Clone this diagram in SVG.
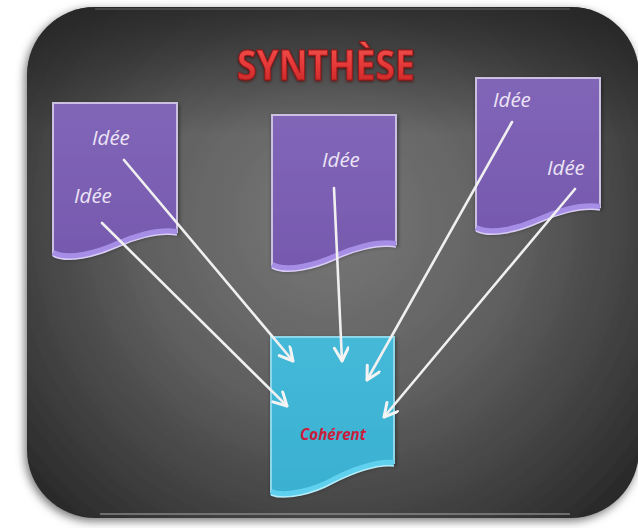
<svg xmlns="http://www.w3.org/2000/svg" width="638" height="528" viewBox="0 0 638 528">
  <defs>
    <radialGradient id="bg" cx="330" cy="220" r="410" gradientUnits="userSpaceOnUse">
      <stop offset="0" stop-color="#787878"/>
      <stop offset="0.45" stop-color="#606060"/>
      <stop offset="0.8" stop-color="#3c3c3c"/>
      <stop offset="1" stop-color="#262626"/>
    </radialGradient>
    <linearGradient id="topshade" x1="0" y1="0" x2="0" y2="1">
      <stop offset="0" stop-color="#1e1e1e" stop-opacity="0.7"/>
      <stop offset="0.25" stop-color="#1e1e1e" stop-opacity="0"/>
      <stop offset="1" stop-color="#1e1e1e" stop-opacity="0"/>
    </linearGradient>
    <linearGradient id="purple" x1="0" y1="0" x2="0" y2="1">
      <stop offset="0" stop-color="#8166b8"/>
      <stop offset="1" stop-color="#7659ae"/>
    </linearGradient>
    <linearGradient id="cyan" x1="0" y1="0" x2="0" y2="1">
      <stop offset="0" stop-color="#45b9d8"/>
      <stop offset="1" stop-color="#3ab0d1"/>
    </linearGradient>
    <linearGradient id="red" x1="0" y1="0" x2="0" y2="1">
      <stop offset="0" stop-color="#f25a56"/>
      <stop offset="0.5" stop-color="#e63a3a"/>
      <stop offset="1" stop-color="#c02020"/>
    </linearGradient>
    <filter id="frameShadow" x="-10%" y="-10%" width="120%" height="120%">
      <feDropShadow dx="-2" dy="3" stdDeviation="5" flood-color="#000" flood-opacity="0.55"/>
    </filter>
    <filter id="soft" x="-10%" y="-10%" width="120%" height="120%">
      <feDropShadow dx="1" dy="2" stdDeviation="2" flood-color="#000" flood-opacity="0.45"/>
    </filter>
    <filter id="glow" x="-10%" y="-20%" width="120%" height="140%">
      <feDropShadow dx="0" dy="1" stdDeviation="1.5" flood-color="#400" flood-opacity="0.8"/>
    </filter>
    <path id="docShape" d="M0,0 H124 V129 C104,126 79,134 62,142 C44,150 15,158 0,150 Z"/>
    <path id="docWave" d="M124,129 C104,126 79,134 62,142 C44,150 15,158 0,150"/>
    <path id="cyanShape" d="M0,0 H123 V126 C103,124 80,134 62,143 C44,153 15,161 0,155 Z"/>
    <path id="cyanWave" d="M123,126 C103,124 80,134 62,143 C44,153 15,161 0,155"/>
    <marker id="arrow" markerUnits="userSpaceOnUse" markerWidth="20" markerHeight="20" refX="15" refY="8" orient="auto">
      <path d="M2,1 L15,8 L2,15" fill="none" stroke="#f4f4f4" stroke-width="3" stroke-linecap="round" stroke-linejoin="round"/>
    </marker>
  </defs>
  <style>
    .doc { fill: url(#purple); stroke: #cbbfe2; stroke-width: 2; }
    .wave { fill: none; stroke: #a68ee6; stroke-width: 6; }
    .waveHi { fill: none; stroke: #d8ccf4; stroke-width: 1.5; }
    .cdoc { fill: url(#cyan); stroke: #8ed6ea; stroke-width: 2; }
    .cwave { fill: none; stroke: #5fd0ee; stroke-width: 6; }
    .cwaveHi { fill: none; stroke: #b6ecf8; stroke-width: 1.5; }
    .idea { font-family: "Open Sans", "Liberation Sans", sans-serif; font-style: italic; font-size: 20.5px; fill: #ece4f6; }
    .conn line { stroke: #f0f0f0; stroke-width: 2.6; stroke-linecap: round; marker-end: url(#arrow); }
  </style>

  <rect x="0" y="0" width="638" height="528" fill="#ffffff"/>

  <!-- frame -->
  <g id="frame">
    <rect x="27" y="7" width="612" height="511" rx="68" ry="68" fill="url(#bg)" filter="url(#frameShadow)"/>
    <rect x="27" y="7" width="612" height="511" rx="68" ry="68" fill="url(#topshade)"/>
    <path d="M95,9 H570" stroke="#8a8a8a" stroke-width="1.2" stroke-opacity="0.6" fill="none"/>
    <path d="M100,514 H570" stroke="#a0a0a0" stroke-width="2" stroke-opacity="0.55" fill="none"/>
  </g>

  <!-- title -->
  <g id="title" filter="url(#glow)">
    <text x="237" y="80" textLength="178" lengthAdjust="spacingAndGlyphs" font-family="'Open Sans', 'Liberation Sans', sans-serif" font-weight="bold" font-size="42" fill="url(#red)" stroke="#a01818" stroke-width="0.9">SYNTHÈSE</text>
  </g>

  <!-- left document -->
  <g id="doc-left" transform="translate(53,103)">
    <use href="#docShape" class="doc" filter="url(#soft)"/>
    <use href="#docWave" class="wave"/>
    <use href="#docWave" class="waveHi" transform="translate(0,3)"/>
    <text class="idea" x="39" y="42">Idée</text>
    <text class="idea" x="21" y="100">Idée</text>
  </g>

  <!-- middle document -->
  <g id="doc-middle" transform="translate(272,115)">
    <use href="#docShape" class="doc" filter="url(#soft)"/>
    <use href="#docWave" class="wave"/>
    <use href="#docWave" class="waveHi" transform="translate(0,3)"/>
    <text class="idea" x="50" y="52">Idée</text>
  </g>

  <!-- right document -->
  <g id="doc-right" transform="translate(476,78)">
    <use href="#docShape" class="doc" filter="url(#soft)"/>
    <use href="#docWave" class="wave"/>
    <use href="#docWave" class="waveHi" transform="translate(0,3)"/>
    <text class="idea" x="17" y="29">Idée</text>
    <text class="idea" x="71" y="97">Idée</text>
  </g>

  <!-- result document -->
  <g id="doc-result" transform="translate(271,337)">
    <use href="#cyanShape" class="cdoc" filter="url(#soft)"/>
    <use href="#cyanWave" class="cwave"/>
    <use href="#cyanWave" class="cwaveHi" transform="translate(0,3)"/>
    <text x="29" y="103" textLength="66" lengthAdjust="spacingAndGlyphs" font-family="'Open Sans', 'Liberation Sans', sans-serif" font-style="italic" font-weight="bold" font-size="16" fill="#cc1c3c">Cohérent</text>
  </g>

  <!-- connectors -->
  <g id="connectors" class="conn">
    <line x1="124" y1="160" x2="293" y2="361"/>
    <line x1="102" y1="223" x2="287" y2="406"/>
    <line x1="334" y1="188" x2="342" y2="361"/>
    <line x1="512" y1="122" x2="367" y2="380"/>
    <line x1="575" y1="189" x2="384" y2="417"/>
  </g>
</svg>
